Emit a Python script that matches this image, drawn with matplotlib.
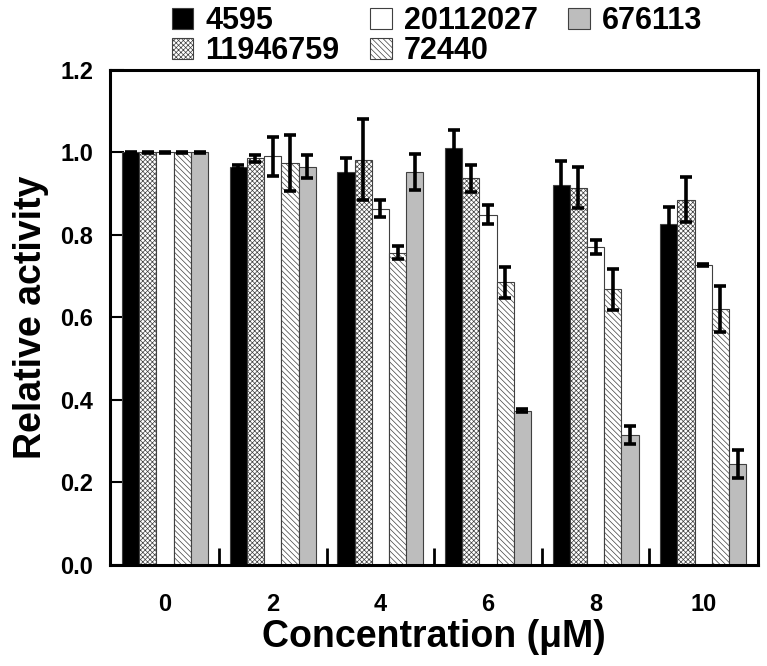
import numpy as np
import matplotlib.pyplot as plt
from matplotlib.ticker import FixedLocator

# data
conc = ['0', '2', '4', '6', '8', '10']
series = ['4595', '11946759', '20112027', '72440', '676113']

v_4595 = [1.000, 0.964, 0.952, 1.011, 0.921, 0.826]
v_11946759 = [1.000, 0.986, 0.983, 0.937, 0.915, 0.886]
v_20112027 = [1.000, 0.991, 0.864, 0.849, 0.770, 0.728]
v_72440 = [1.000, 0.974, 0.757, 0.685, 0.668, 0.621]
v_676113 = [1.000, 0.966, 0.952, 0.374, 0.316, 0.245]

e_4595 = [0.002, 0.005, 0.034, 0.044, 0.058, 0.043]
e_11946759 = [0.002, 0.008, 0.098, 0.033, 0.050, 0.054]
e_20112027 = [0.002, 0.047, 0.021, 0.023, 0.017, 0.002]
e_72440 = [0.002, 0.068, 0.016, 0.037, 0.050, 0.055]
e_676113 = [0.002, 0.027, 0.044, 0.004, 0.022, 0.033]

values = [v_4595, v_11946759, v_20112027, v_72440, v_676113]
errors = [e_4595, e_11946759, e_20112027, e_72440, e_676113]
faces = ['black', 'white', 'white', 'white', '#bdbdbd']
hatches = [None, 'xxxxxxx', None, '\\\\\\\\\\\\', None]

plt.rcParams['font.family'] = ['Liberation Sans', 'DejaVu Sans']
plt.rcParams['font.weight'] = 'bold'
plt.rcParams['hatch.linewidth'] = 0.5

fig = plt.figure(figsize=(7.67, 6.66), dpi=100)
ax = fig.add_axes([0.1434, 0.1517, 0.845, 0.7432])

x = np.arange(len(conc))
w = 0.16
for i in range(len(series)):
    pos = x - 2 * w + i * w
    ax.bar(pos, values[i], w, color=faces[i], edgecolor='#404040', linewidth=0.8,
           hatch=hatches[i], label=series[i], zorder=2)
    ax.errorbar(pos, values[i], yerr=errors[i], fmt='none', ecolor='black',
                elinewidth=2.6, capsize=4, capthick=2.6, zorder=3)

ax.set_xlim(-0.512, 5.51)
ax.set_ylim(0, 1.2)
ax.set_yticks(np.arange(0, 1.21, 0.2))
ax.set_yticklabels(['%.1f' % t for t in np.arange(0, 1.21, 0.2)])
ax.set_xticks(x)
ax.set_xticklabels(conc)
ax.xaxis.set_minor_locator(FixedLocator(x[:-1] + 0.5))
ax.tick_params(axis='x', which='major', length=0, pad=20, labelsize=17)
ax.tick_params(axis='x', which='minor', direction='in', length=12, width=2)
ax.tick_params(axis='y', direction='in', length=10, width=1.5, pad=12, labelsize=17)
for s in ax.spines.values():
    s.set_linewidth(2.2)

ax.set_xlabel('Concentration (\u03bcM)', fontsize=27, fontweight='bold', labelpad=2)
ax.set_ylabel('Relative activity', fontsize=27, fontweight='bold', labelpad=8)

ax.legend(loc='upper left', bbox_to_anchor=(172 / 767, 1 - 6 / 666),
          bbox_transform=fig.transFigure, ncol=3, frameon=False, fontsize=22,
          handlelength=0.7, handleheight=0.7, handletextpad=0.4,
          columnspacing=1.0, labelspacing=0.0, borderpad=0, borderaxespad=0)

fig.savefig('out.png', dpi=100)
